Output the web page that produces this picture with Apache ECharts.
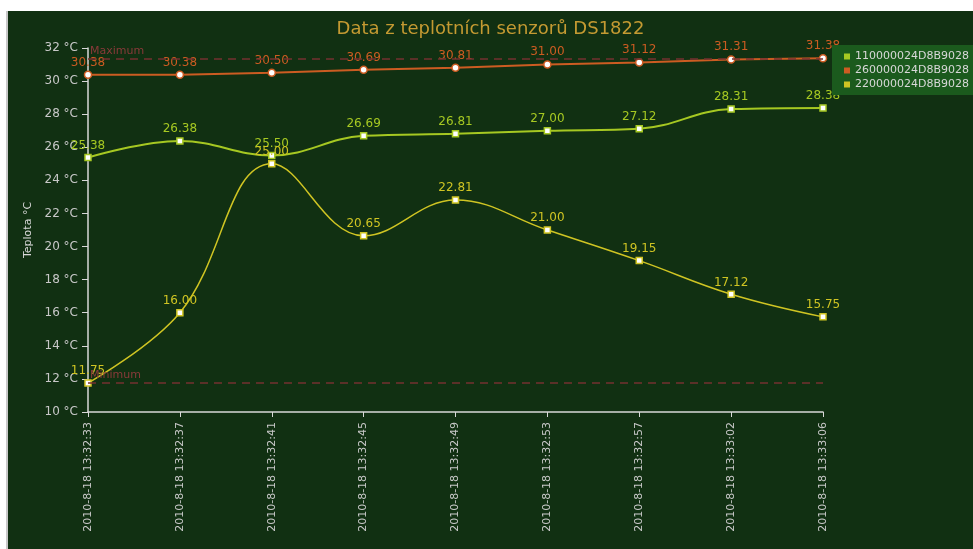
<!DOCTYPE html>
<html lang="cs">
<head>
    <meta charset="utf-8">
    <title>Data z teplotních senzorů DS1822</title>
    <style>
        html, body { margin: 0; padding: 0; background: #ffffff; }
        #main { position: absolute; left: 8px; top: 11px; width: 965px; height: 538px;
                box-shadow: -2px 0 0 #c8c8c8; }
    </style>
</head>
<body>
<div id="main"></div>
<script src="https://cdn.jsdelivr.net/npm/echarts@6/dist/echarts.min.js"></script>
<script type="text/javascript">

    // casy mereni
    var times = ['2010-8-18 13:32:33', '2010-8-18 13:32:37', '2010-8-18 13:32:41',
        '2010-8-18 13:32:45', '2010-8-18 13:32:49', '2010-8-18 13:32:53',
        '2010-8-18 13:32:57', '2010-8-18 13:33:02', '2010-8-18 13:33:06'];

    var sensorNames = ['110000024D8B9028', '260000024D8B9028', '220000024D8B9028'];

    var sensor1 = [25.38, 26.38, 25.50, 26.69, 26.81, 27.00, 27.12, 28.31, 28.38];
    var sensor2 = [30.38, 30.38, 30.50, 30.69, 30.81, 31.00, 31.12, 31.31, 31.38];
    var sensor3 = [11.75, 16.00, 25.00, 20.65, 22.81, 21.00, 19.15, 17.12, 15.75];

    var colors = ['#a6c822', '#cc5c22', '#cfc423'];

    function labelFmt(p) {
        return p.value.toFixed(2);
    }

    function makeSeries(name, data, color, smooth, width) {
        return {
            name: name,
            type: 'line',
            data: data,
            smooth: smooth,
            symbol: 'rect',
            symbolSize: 6,
            lineStyle: {color: color, width: width},
            itemStyle: {color: '#ffffff', borderColor: color, borderWidth: 1.5},
            label: {
                show: true,
                position: 'top',
                distance: 2,
                color: color,
                fontSize: 12,
                fontFamily: 'DejaVu Sans',
                formatter: labelFmt
            }
        };
    }

    var markLabel = {position: 'insideStartTop', color: '#8a3a3a',
        fontSize: 11, fontFamily: 'DejaVu Sans', distance: 2};

    var s1 = makeSeries(sensorNames[0], sensor1, colors[0], 0.4, 2);
    var s2 = makeSeries(sensorNames[1], sensor2, colors[1], false, 2);
    s2.symbol = 'circle';
    s2.symbolSize = 7;
    s2.markLine = {
        silent: true,
        symbol: 'none',
        lineStyle: {color: '#743030', type: [8, 6], width: 1.5},
        label: Object.assign({formatter: 'Maximum'}, markLabel),
        data: [{type: 'max'}]
    };
    var s3 = makeSeries(sensorNames[2], sensor3, colors[2], 0.4, 1.5);
    s3.markLine = {
        silent: true,
        symbol: 'none',
        lineStyle: {color: '#743030', type: [8, 6], width: 1.5},
        label: Object.assign({formatter: 'Minimum'}, markLabel),
        data: [{type: 'min'}]
    };

    // legenda s plnymi ctverecky
    var legendData = sensorNames.map(function (n, i) {
        return {name: n, itemStyle: {color: colors[i], borderWidth: 0}};
    });

    var myChart = echarts.init(document.getElementById('main'));
    var option = {
        backgroundColor: '#113012',
        color: colors,
        animation: false,
        title: {
            text: 'Data z teplotních senzorů DS1822',
            left: 'center',
            top: 4,
            textStyle: {color: '#c49a32', fontSize: 18, fontWeight: 'normal', fontFamily: 'DejaVu Sans'}
        },
        legend: {
            data: legendData,
            orient: 'vertical',
            left: 824,
            top: 34,
            padding: [6, 8, 5, 12],
            backgroundColor: '#1b5a1d',
            icon: 'rect',
            itemWidth: 6,
            itemHeight: 6,
            itemGap: 3,
            textStyle: {color: '#d8d8d8', fontSize: 11, fontFamily: 'DejaVu Sans'}
        },
        grid: {left: 80, right: 150, top: 37, bottom: 137},
        xAxis: {
            type: 'category',
            data: times,
            boundaryGap: false,
            axisLine: {lineStyle: {color: '#d8d8d8', width: 1.5}},
            axisTick: {lineStyle: {color: '#d8d8d8'}, length: 5},
            axisLabel: {rotate: 90, color: '#c8c8c8', fontSize: 11, fontFamily: 'DejaVu Sans', margin: 10}
        },
        yAxis: {
            type: 'value',
            min: 10,
            max: 32,
            interval: 2,
            name: 'Teplota °C',
            nameLocation: 'middle',
            nameGap: 48,
            nameTextStyle: {color: '#d8d8d8', fontSize: 11, fontFamily: 'DejaVu Sans'},
            splitLine: {show: false},
            axisLine: {show: true, lineStyle: {color: '#d8d8d8', width: 1.5}},
            axisTick: {show: true, lineStyle: {color: '#d8d8d8'}, length: 6},
            axisLabel: {color: '#c8c8c8', fontSize: 12, fontFamily: 'DejaVu Sans', margin: 10,
                formatter: '{value} °C'}
        },
        series: [s1, s2, s3]
    };
    myChart.setOption(option);

</script>
</body>
</html>
